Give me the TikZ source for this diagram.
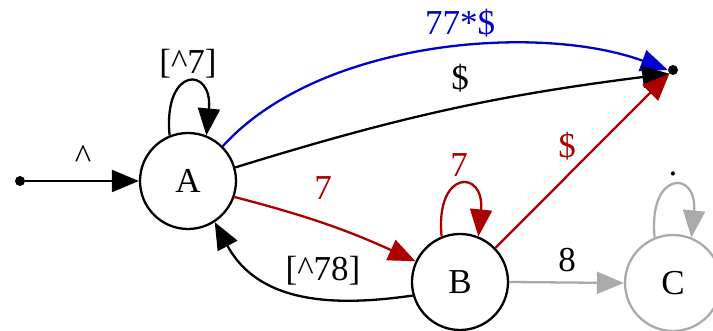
\documentclass[tikz,border=0pt]{standalone}
\usepackage{fontspec}
\setmainfont{Liberation Serif}
\usetikzlibrary{arrows.meta}
\definecolor{edgeblue}{RGB}{0,0,205}
\definecolor{edgered}{RGB}{170,0,0}
\definecolor{edgegrey}{RGB}{170,170,170}
\tikzset{
  fsm/.style={x=1pt,y=1pt,font=\fontsize{35}{42}\selectfont},
  st/.style={draw,circle,line width=2.3pt,minimum size=96pt,inner sep=0pt},
  dot/.style={circle,fill,inner sep=0pt,minimum size=10pt},
  ln/.style={-{Triangle[length=27pt,width=22pt]},line width=2.3pt},
  lbl/.style={anchor=base,inner sep=0pt},
}

\begin{document}
\begin{tikzpicture}[fsm,
  lnred/.style={ln,edgered},
  lnblue/.style={ln,edgeblue},
  lngrey/.style={ln,edgegrey}]

\useasboundingbox (0,0) rectangle (713,331);

\node[dot] (start) at (20,150) {};
\node[st] (A) at (188,150) {A};
\node[st] (B) at (460,49) {B};
\node[st,draw=edgegrey] (C) at (673,48) {C};
\node[dot] (final) at (673,261) {};

\draw[ln] (start) -- (A.west);
\draw[ln] (A.112) .. controls (163,265) and (213,265) .. (A.68);
\draw[lnblue] (A.45) .. controls (320,292) and (540,308) .. (final.west);
\draw[ln] (A.16) to[bend left=5] (final.south west);
\draw[lnred] (A.-19) to[bend left=5] (B.155);
\draw[lnred] (B.112) .. controls (435,162) and (485,162) .. (B.68);
\draw[lnred] (B.44) -- (final.south west);
\draw[ln] (B.196) .. controls (340,25) and (260,25) .. (A.-57);
\draw[lngrey] (B.east) -- (C.west);
\draw[lngrey] (C.112) .. controls (648,161) and (698,161) .. (C.68);

\node[lbl] (lstart) at (83,162) {\textasciicircum};
\node[lbl] (lloopA) at (188,257) {[\textasciicircum 7]};
\node[lbl,edgeblue] (lblue) at (460,296) {77*\$};
\node[lbl] (lend) at (460,241) {\$};
\node[lbl,edgered] (lAB) at (323,131) {7};
\node[lbl,edgered] (lloopB) at (459,154) {7};
\node[lbl,edgered] (lBend) at (567,173) {\$};
\node[lbl] (lBA) at (323,50) {[\textasciicircum 78]};
\node[lbl] (lBC) at (567,59) {8};
\node[lbl] (lloopC) at (673,155) {.};

\end{tikzpicture}
\end{document}
